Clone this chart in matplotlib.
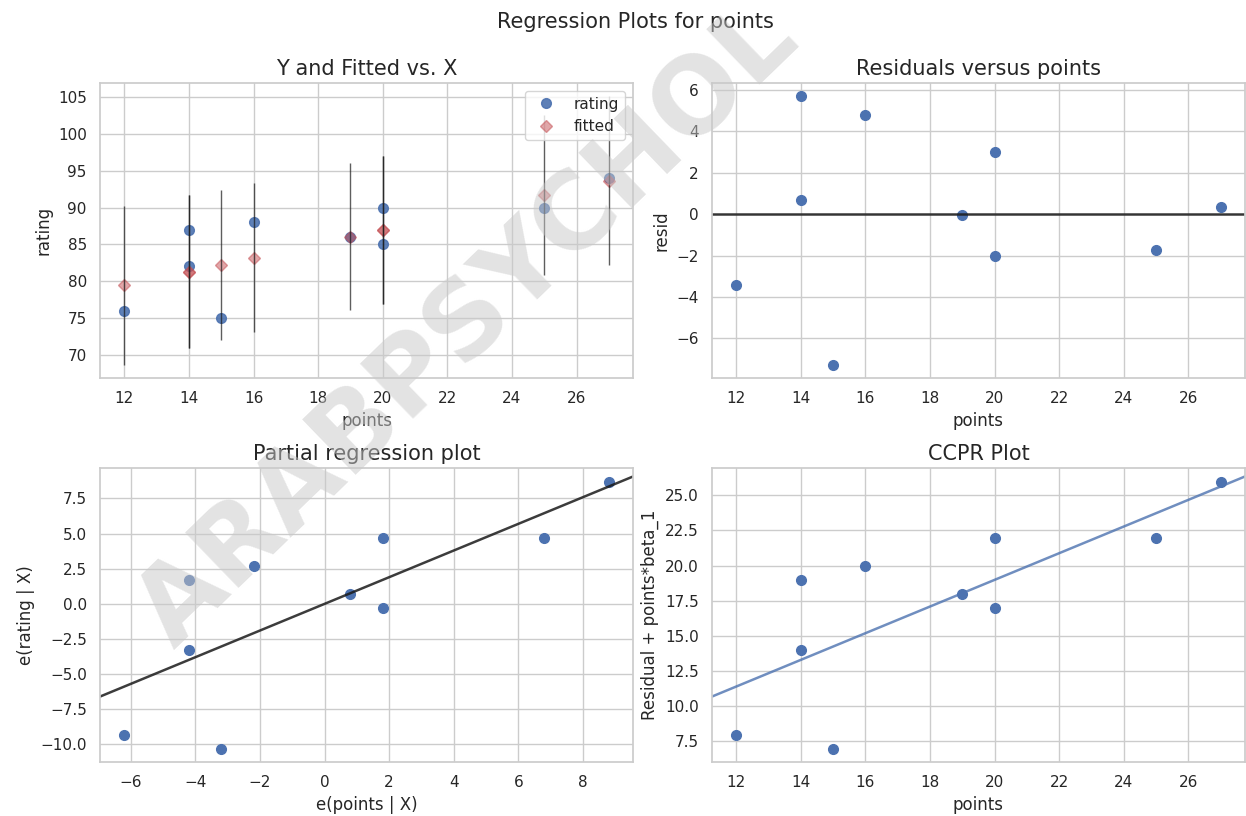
import numpy as np
import matplotlib
matplotlib.use("Agg")
import matplotlib.pyplot as plt
import seaborn as sns

points = [12, 14, 14, 15, 16, 19, 20, 20, 25, 27]
rating = [76, 87, 82, 75, 88, 86, 90, 85, 90, 94]
t_crit = 2.306  # t(0.975, df=8), 95% prediction interval

sns.set_theme(style="whitegrid", palette="deep", color_codes=True)
plt.rcParams["font.family"] = ["DejaVu Sans"]

# simple OLS fit
x = np.array(points, dtype=float)
y = np.array(rating, dtype=float)
n = len(x)
xc = x - x.mean()
yc = y - y.mean()
beta = (xc * yc).sum() / (xc ** 2).sum()
alpha = y.mean() - beta * x.mean()
fitted = alpha + beta * x
resid = y - fitted
s = np.sqrt((resid ** 2).sum() / (n - 2))
pred_se = s * np.sqrt(1 + 1 / n + xc ** 2 / (xc ** 2).sum())
lo = fitted - t_crit * pred_se
hi = fitted + t_crit * pred_se


def abline(ax, slope, **kw):
    # line through origin across the current x range, not changing limits
    xl = ax.get_xlim()
    yl = ax.get_ylim()
    xs = np.array(xl)
    ax.plot(xs, slope * xs, scalex=False, scaley=False, **kw)
    ax.set_xlim(xl)
    ax.set_ylim(yl)


fig = plt.figure(figsize=(12.46, 8.16), dpi=100)
ax1 = fig.add_axes([0.0803, 0.5368, 0.4278, 0.3615])
ax2 = fig.add_axes([0.5714, 0.5368, 0.4278, 0.3615])
ax3 = fig.add_axes([0.0803, 0.0662, 0.4278, 0.3600])
ax4 = fig.add_axes([0.5714, 0.0662, 0.4278, 0.3600])

ms = 7
tfs = 15
lfs = 12

# Y and fitted vs X
ax1.plot(x, y, "o", color="b", alpha=0.9, ms=ms, label="rating")
ax1.plot(x, fitted, "D", color="r", alpha=0.5, ms=ms - 1, label="fitted")
ax1.vlines(x, lo, hi, color="k", alpha=0.7, lw=1)
ax1.set_title("Y and Fitted vs. X", fontsize=tfs)
ax1.set_xlabel("points", fontsize=lfs)
ax1.set_ylabel("rating", fontsize=lfs)
ax1.legend(loc="upper right", fontsize=11)

# residuals
ax2.plot(x, resid, "o", color="b", ms=ms)
ax2.axhline(0, color="k", lw=1.8, alpha=0.85)
ax2.set_title("Residuals versus points", fontsize=tfs)
ax2.set_xlabel("points", fontsize=lfs)
ax2.set_ylabel("resid", fontsize=lfs)

# partial regression
ax3.plot(xc, yc, "o", color="b", ms=ms)
abline(ax3, beta, color="k", lw=1.8, alpha=0.85)
ax3.set_title("Partial regression plot", fontsize=tfs)
ax3.set_xlabel("e(points | X)", fontsize=lfs)
ax3.set_ylabel("e(rating | X)", fontsize=lfs)

# CCPR
ax4.plot(x, resid + beta * x, "o", color="b", ms=ms)
abline(ax4, beta, color="b", lw=1.8, alpha=0.8)
ax4.set_title("CCPR Plot", fontsize=tfs)
ax4.set_xlabel("points", fontsize=lfs)
ax4.set_ylabel("Residual + points*beta_1", fontsize=lfs)

for ax in (ax1, ax2, ax3, ax4):
    ax.tick_params(labelsize=11)

fig.suptitle("Regression Plots for points", fontsize=15, x=0.51, y=0.985)

fig.text(0.375, 0.60, "ARABPSYCHOL", fontsize=76, fontweight="bold",
         color="#c8c8c8", alpha=0.5, rotation=44, ha="center", va="center",
         zorder=10)

fig.savefig("out.png", dpi=100)
